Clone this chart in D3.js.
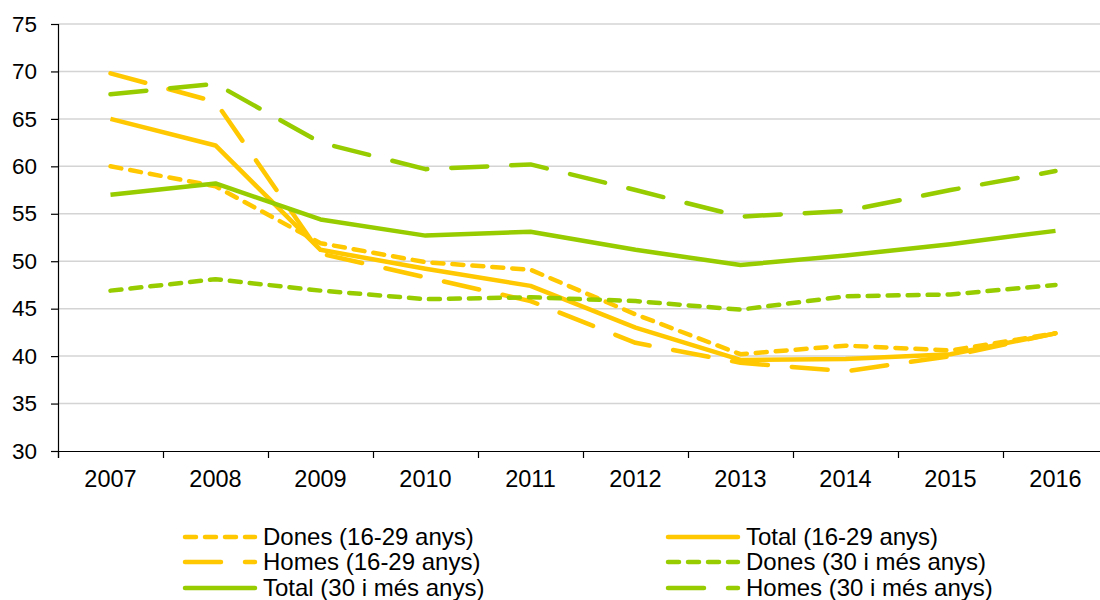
<!DOCTYPE html>
<html>
<head>
<meta charset="utf-8">
<script src="https://cdn.jsdelivr.net/npm/d3@7"></script>
<style>
  body { margin: 0; background: #fff; }
  text { font-family: "Liberation Sans", Arial, sans-serif; fill: #000; }
</style>
</head>
<body>
<div id="chart"></div>
<script>
const years = ['2007', '2008', '2009', '2010', '2011', '2012', '2013', '2014', '2015', '2016'];
const yTicks = [30, 35, 40, 45, 50, 55, 60, 65, 70, 75];

const dones1629 = [60.0, 57.9, 51.9, 49.9, 49.1, 44.4, 40.2, 41.1, 40.6, 42.4];
const homes1629 = [69.8, 66.8, 50.8, 48.3, 45.8, 41.4, 39.3, 38.4, 40.0, 42.4];
const total1629 = [65.0, 62.2, 51.2, 49.2, 47.4, 43.0, 39.6, 39.7, 40.2, 42.4];
const dones30 = [46.9, 48.1, 46.9, 46.0, 46.2, 45.8, 44.9, 46.3, 46.5, 47.5];
const homes30 = [67.6, 68.7, 62.5, 59.7, 60.2, 57.5, 54.7, 55.3, 57.5, 59.5];
const total30 = [57.0, 58.2, 54.4, 52.7, 53.1, 51.2, 49.6, 50.6, 51.8, 53.2];

const yellow = '#ffc800';
const green = '#96cc00';
const dotted = '11,9';
const longDash = '36,24';

const series = [
    { name: 'Dones (16-29 anys)', values: dones1629, color: yellow, dash: dotted },
    { name: 'Total (16-29 anys)', values: total1629, color: yellow, dash: null },
    { name: 'Homes (16-29 anys)', values: homes1629, color: yellow, dash: longDash },
    { name: 'Dones (30 i més anys)', values: dones30, color: green, dash: dotted },
    { name: 'Total (30 i més anys)', values: total30, color: green, dash: null },
    { name: 'Homes (30 i més anys)', values: homes30, color: green, dash: longDash }
];

function initChart() {
    const width = 1100;
    const height = 600;
    const plot = { left: 58, right: 1108, top: 24, bottom: 451 };
    const font = '"Liberation Sans", Arial, sans-serif';

    const svg = d3.select('#chart').append('svg')
        .attr('width', width)
        .attr('height', height);

    const x = d3.scaleBand().domain(years).range([plot.left, plot.right]);
    const xEdge = d3.scaleLinear().domain([0, years.length]).range([plot.left, plot.right]);
    const y = d3.scaleLinear().domain([30, 75]).range([plot.bottom, plot.top]);

    // gridlines
    svg.append('g')
        .selectAll('line')
        .data(yTicks.filter(d => d > 30))
        .join('line')
        .attr('x1', plot.left)
        .attr('x2', plot.right)
        .attr('y1', d => y(d))
        .attr('y2', d => y(d))
        .attr('stroke', '#d4d4d4')
        .attr('stroke-width', 1.5);

    // y axis
    const yAxis = svg.append('g')
        .attr('transform', `translate(${plot.left},0)`)
        .call(d3.axisLeft(y).tickValues(yTicks).tickSize(7).tickPadding(14));
    yAxis.select('.domain').attr('stroke', '#000').attr('stroke-width', 1.2);
    yAxis.selectAll('.tick line').attr('stroke', '#000').attr('stroke-width', 1.2);
    yAxis.selectAll('text').attr('font-size', '22.5px').attr('fill', '#000')
        .style('font-family', font);

    // x axis: ticks on category boundaries
    const xAxis = svg.append('g')
        .attr('transform', `translate(0,${plot.bottom})`)
        .call(d3.axisBottom(xEdge).tickValues(d3.range(years.length + 1)).tickSize(7).tickFormat(''));
    xAxis.select('.domain').attr('stroke', '#000').attr('stroke-width', 1.2);
    xAxis.selectAll('.tick line').attr('stroke', '#000').attr('stroke-width', 1.2);

    const xLabels = svg.append('g')
        .attr('transform', `translate(0,${plot.bottom})`)
        .call(d3.axisBottom(x).tickSize(0).tickPadding(19));
    xLabels.select('.domain').remove();
    xLabels.selectAll('text').attr('font-size', '23.5px').attr('fill', '#000')
        .style('font-family', font);

    const line = d3.line()
        .x((d, i) => x(years[i]) + x.bandwidth() / 2)
        .y(d => y(d));

    svg.append('g')
        .selectAll('path')
        .data(series)
        .join('path')
        .attr('fill', 'none')
        .attr('stroke', d => d.color)
        .attr('stroke-width', 4.5)
        .attr('stroke-linejoin', 'round')
        .attr('stroke-linecap', d => d.dash ? 'round' : 'butt')
        .attr('stroke-dasharray', d => d.dash)
        .attr('d', d => line(d.values));

    // legend, two columns filled row by row
    const colX = [185, 668];
    const rowY = [537, 562, 588];
    const legend = svg.append('g')
        .selectAll('g')
        .data(series)
        .join('g')
        .attr('transform', (d, i) => `translate(${colX[i % 2]},${rowY[Math.floor(i / 2)]})`);

    legend.append('line')
        .attr('x1', 0).attr('x2', 70)
        .attr('y1', 0).attr('y2', 0)
        .attr('stroke', d => d.color)
        .attr('stroke-width', 4.5)
        .attr('stroke-linecap', 'round')
        .attr('stroke-dasharray', d => d.dash);

    legend.append('text')
        .attr('x', 78)
        .attr('y', 0)
        .attr('dy', '0.35em')
        .attr('font-size', '24px')
        .text(d => d.name);
}

initChart();
</script>
</body>
</html>
